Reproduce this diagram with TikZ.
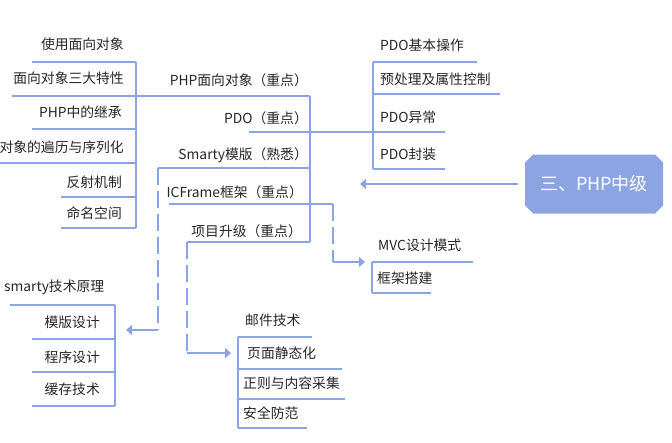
\documentclass[tikz,border=0pt]{standalone}
\usepackage{fontspec}
\newfontfamily\cjk{Noto Sans CJK SC}
\usetikzlibrary{arrows.meta,positioning}
\definecolor{mapblue}{RGB}{140,165,226}
\tikzstyle{topic}=[font=\cjk\fontsize{13.8}{16}\selectfont,inner sep=0pt,text=black!85]
\tikzstyle{line}=[draw=mapblue,line width=2pt]
\tikzstyle{post}=[line,-{Triangle[length=6pt,width=10pt]}]
\tikzstyle{jump}=[line,dash pattern=on 17pt off 6pt]
\tikzstyle{hub}=[draw=none,text=white,minimum width=138pt,minimum height=59pt,
  inner sep=0pt,font=\cjk\fontsize{18}{20}\selectfont,
  path picture={\fill[mapblue]
    ([xshift=8pt]path picture bounding box.north west) --
    ([xshift=-8pt]path picture bounding box.north east) --
    ([yshift=-8pt]path picture bounding box.north east) --
    ([yshift=8pt]path picture bounding box.south east) --
    ([xshift=-8pt]path picture bounding box.south east) --
    ([xshift=8pt]path picture bounding box.south west) --
    ([yshift=8pt]path picture bounding box.south west) --
    ([yshift=-8pt]path picture bounding box.north west) -- cycle;}]

\begin{document}
\begin{tikzpicture}[x=1pt,y=-1pt]
\useasboundingbox (0,0) rectangle (672,442);

% centre topic
\node (center) [hub] at (594,184) {三、PHP中级};
\coordinate (left) at (360,184);
\draw[post] (center.west) ++(-7,0) -- (left);

% main branch
\node (oop) [topic,anchor=east] at (308,80) {PHP面向对象（重点）};
\node (pdo) [topic,anchor=east] at (308,118) {PDO（重点）};
\node (smarty) [topic,anchor=east] at (308,155) {Smarty模版（熟悉）};
\node (frame) [topic,anchor=east] at (303,192) {ICFrame框架（重点）};
\node (proj) [topic,anchor=east] at (302,231) {项目升级（重点）};
\coordinate (spineTop) at (310,96);
\coordinate (spineBot) at (310,242);
\draw[line] (spineTop) -- (spineBot);
\draw[line] (136,96) -- (spineTop);
\draw[line] (249,132) -- (373,132);
\draw[line] (158,168) -- (310,168);
\draw[line] (169,204) -- (333,204);
\draw[line] (187,242) -- (spineBot);

% PHP面向对象
\node (use) [topic,anchor=east] at (124,44) {使用面向对象};
\node (three) [topic,anchor=east] at (124,78) {面向对象三大特性};
\node (inherit) [topic,anchor=east] at (122,112) {PHP中的继承};
\node (iter) [topic,anchor=east] at (124,147) {对象的遍历与序列化};
\node (reflect) [topic,anchor=east] at (122,182) {反射机制};
\node (ns) [topic,anchor=east] at (122,213) {命名空间};
\draw[line] (136,62) -- (136,228);
\draw[line] (32,62) -- (136,62);
\draw[line] (12,96) -- (136,96);
\draw[line] (32,129) -- (136,129);
\draw[line] (0,163) -- (136,163);
\draw[line] (61,197) -- (136,197);
\draw[line] (61,228) -- (136,228);

% PDO
\node (basic) [topic,anchor=west] at (380,45) {PDO基本操作};
\node (prep) [topic,anchor=west] at (380,79) {预处理及属性控制};
\node (exc) [topic,anchor=west] at (380,117) {PDO异常};
\node (wrap) [topic,anchor=west] at (380,154) {PDO封装};
\draw[line] (373,62) -- (373,169);
\draw[line] (373,62) -- (477,62);
\draw[line] (373,94) -- (500,94);
\draw[line] (373,132) -- (445,132);
\draw[line] (373,169) -- (445,169);

% Smarty
\coordinate (smartyEnd) at (158,168);
\coordinate (smartyTurn) at (158,330);
\coordinate (smartyIn) at (126,330);
\draw[jump] (smartyEnd) -- (smartyTurn);
\draw[post] (smartyTurn) -- (smartyIn);
\node (theory) [topic,anchor=west] at (4,287) {smarty技术原理};
\node (tpl) [topic,anchor=east] at (100,322) {模版设计};
\node (prog) [topic,anchor=east] at (100,357) {程序设计};
\node (cache) [topic,anchor=east] at (100,389) {缓存技术};
\draw[line] (115,305) -- (115,406);
\draw[line] (10,305) -- (115,305);
\draw[line] (32,339) -- (115,339);
\draw[line] (32,372) -- (115,372);
\draw[line] (32,406) -- (115,406);

% ICFrame
\coordinate (frameEnd) at (333,204);
\coordinate (frameTurn) at (333,262);
\coordinate (frameIn) at (365,262);
\draw[jump] (frameEnd) -- (frameTurn);
\draw[post] (frameTurn) -- (frameIn);
\node (mvc) [topic,anchor=west] at (378,245) {MVC设计模式};
\node (build) [topic,anchor=west] at (377,278) {框架搭建};
\draw[line] (372,262) -- (372,293);
\draw[line] (372,262) -- (473,262);
\draw[line] (372,293) -- (431,293);

% 项目升级
\coordinate (projEnd) at (187,242);
\coordinate (projTurn) at (187,353);
\coordinate (projIn) at (231,353);
\draw[jump] (projEnd) -- (projTurn);
\draw[post] (projTurn) -- (projIn);
\node (mail) [topic,anchor=west] at (245,320) {邮件技术};
\node (static) [topic,anchor=west] at (247,353) {页面静态化};
\node (regex) [topic,anchor=west] at (243,383) {正则与内容采集};
\node (safe) [topic,anchor=west] at (243,413) {安全防范};
\draw[line] (238,337) -- (238,428);
\draw[line] (238,337) -- (312,337);
\draw[line] (238,369) -- (342,369);
\draw[line] (238,399) -- (345,399);
\draw[line] (238,428) -- (307,428);
\end{tikzpicture}
\end{document}
